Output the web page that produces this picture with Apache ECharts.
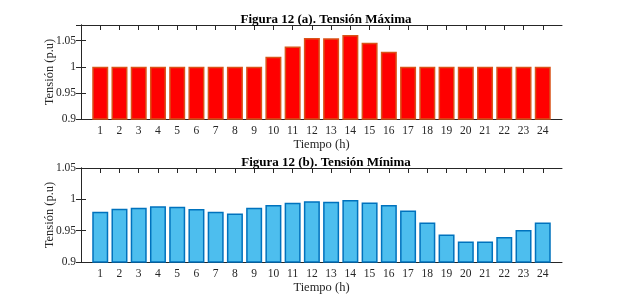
<!DOCTYPE html>
<html>
<head>
<meta charset="utf-8">
<script src="https://cdn.jsdelivr.net/npm/echarts@6/dist/echarts.min.js"></script>
<style>
  html, body { margin: 0; padding: 0; background: #fff; }
  #chart { width: 621px; height: 300px; }
</style>
</head>
<body>
<div id="chart"></div>
<script>
const hours = [1, 2, 3, 4, 5, 6, 7, 8, 9, 10, 11, 12, 13, 14, 15, 16, 17, 18, 19, 20, 21, 22, 23, 24];
const vMax = [1, 1, 1, 1, 1, 1, 1, 1, 1, 1.019, 1.039, 1.055, 1.0545, 1.061, 1.046, 1.029,
  1, 1, 1, 1, 1, 1, 1, 1];
const vMin = [0.980, 0.985, 0.9865, 0.989, 0.988, 0.9845, 0.980, 0.9775, 0.9865, 0.991, 0.9945, 0.997,
  0.996, 0.999, 0.995, 0.991, 0.982, 0.963, 0.944, 0.9327, 0.9327, 0.940, 0.951, 0.963];
const titles = ['Figura 12 (a). Tensión Máxima', 'Figura 12 (b). Tensión Mínima'];
const xName = 'Tiempo (h)';
const yName = 'Tensión (p.u)';

const font = 'Liberation Serif';
const ink = '#262626';
const chart = echarts.init(document.getElementById('chart'));

const grids = [
  { left: 81, right: 59, top: 25, height: 94 },
  { left: 81, right: 59, top: 168, height: 94 }
];

function xAxes(gi) {
  return [{
    type: 'value', gridIndex: gi, position: 'bottom', min: 0, max: 25, interval: 1,
    name: xName, nameLocation: 'middle', nameGap: 19,
    nameTextStyle: { fontFamily: font, fontSize: 12.5, color: ink },
    axisLine: { lineStyle: { color: ink } },
    axisTick: { show: false },
    splitLine: { show: false },
    axisLabel: {
      fontFamily: font, fontSize: 11.5, color: ink, margin: 6,
      formatter: v => (v >= 1 && v <= 24 ? String(v) : '')
    }
  }, {
    type: 'value', gridIndex: gi, position: 'top', min: 0, max: 25, interval: 1,
    axisLine: { lineStyle: { color: ink } },
    axisTick: { inside: true, length: 5, lineStyle: { color: ink },
      customValues: hours },
    axisLabel: { show: false },
    splitLine: { show: false }
  }];
}

function yAxes(gi, min, max, showMax) {
  return [{
    type: 'value', gridIndex: gi, position: 'left', min: min, max: max, interval: 0.05,
    name: yName, nameLocation: 'middle', nameGap: 25, nameMoveOverlap: false,
    nameTextStyle: { fontFamily: font, fontSize: 12.5, color: ink },
    axisLine: { show: true, lineStyle: { color: ink } },
    axisTick: { show: true, inside: true, length: 5, lineStyle: { color: ink } },
    splitLine: { show: false },
    axisLabel: { fontFamily: font, fontSize: 11.5, color: ink, margin: 5, showMaxLabel: showMax }
  }, {
    type: 'value', gridIndex: gi, position: 'right', min: min, max: max, interval: 0.05,
    axisLine: { show: true, lineStyle: { color: ink } },
    axisTick: { show: true, inside: true, length: 5, lineStyle: { color: ink } },
    splitLine: { show: false },
    axisLabel: { show: false }
  }];
}

chart.setOption({
  animation: false,
  title: titles.map((t, i) => ({
    text: t, left: 321, top: i === 0 ? 8 : 151, textAlign: 'center',
    textStyle: { fontFamily: font, fontSize: 13, fontWeight: 'bold', color: '#000' }
  })),
  grid: grids,
  xAxis: [...xAxes(0), ...xAxes(1)],
  yAxis: [...yAxes(0, 0.9, 1.08, false), ...yAxes(1, 0.9, 1.05, true)],
  series: [{
    type: 'bar', xAxisIndex: 0, yAxisIndex: 0, barWidth: 16,
    data: hours.map((h, i) => [h, vMax[i]]),
    itemStyle: { color: '#ff0000', borderColor: '#d95319', borderWidth: 1.5 }
  }, {
    type: 'bar', xAxisIndex: 2, yAxisIndex: 2, barWidth: 16,
    data: hours.map((h, i) => [h, vMin[i]]),
    itemStyle: { color: '#4dbeee', borderColor: '#0072bd', borderWidth: 1.5 }
  }]
});
</script>
</body>
</html>
